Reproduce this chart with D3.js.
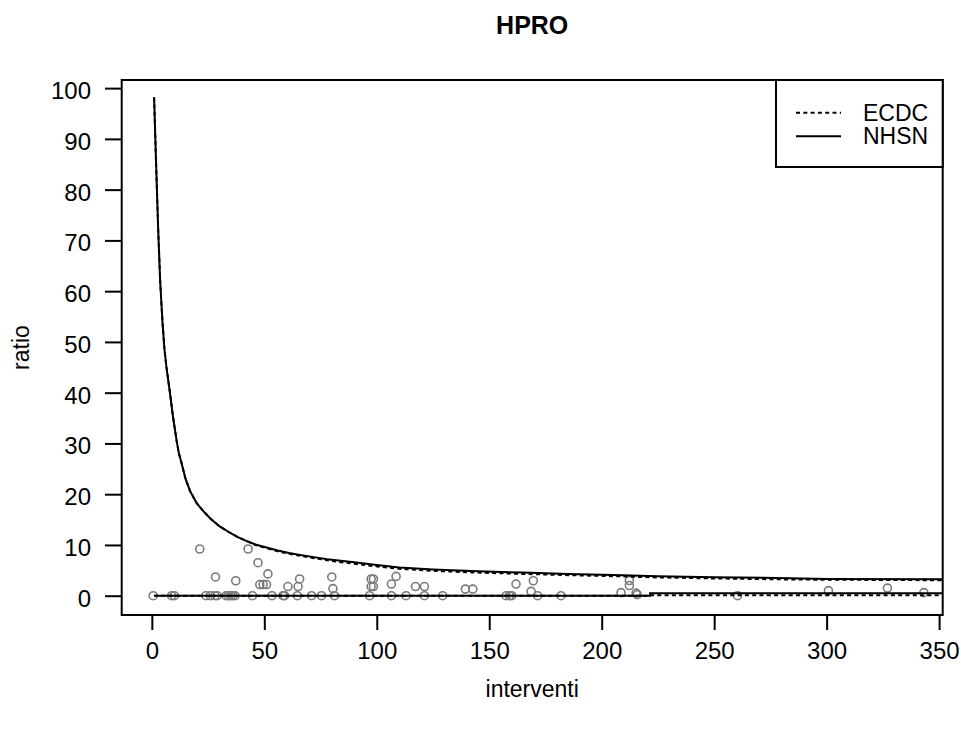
<!DOCTYPE html>
<head>
  <meta charset="utf-8">
  <script src="https://d3js.org/d3.v7.min.js"></script>
  <style>
    body { margin: 0; background: #fff; font-family: "Liberation Sans", Arial, sans-serif; }
    text { fill: #000; }
    .axis path { display: none; }
    .axis line { stroke: #000; stroke-width: 2; }
    .axis text { font-size: 24px; font-family: "Liberation Sans", Arial, sans-serif; }
  </style>
</head>
<body>
  <script>
    // tick labels
    var xTicks = [0, 50, 100, 150, 200, 250, 300, 350];
    var yTicks = [0, 10, 20, 30, 40, 50, 60, 70, 80, 90, 100];

    // observed hospitals: interventi / ratio
    var pointN = [0.6, 8.8, 10, 21.3, 24, 26, 28, 29, 28.3, 33, 34, 35, 36, 37, 37.3, 42.8, 44.7, 47.2,
                  48, 49.5, 51, 51.6, 53.4, 58.3, 59, 60.5, 64.7, 65, 65.7, 71, 75.4, 80, 80.5, 81.2,
                  96.8, 97.5, 98.5, 97.5, 98.5, 106.5, 106.5, 108.6, 113, 117.2, 121.2, 121.2, 129.3,
                  139.4, 142.7, 157.5, 159, 160, 161.9, 168.6, 169.6, 171.5, 181.9, 208.6, 212.3, 212.3,
                  215.3, 215.8, 260.4, 300.8, 327, 343.2];
    var pointRatio = [0, 0, 0, 9.2, 0, 0, 0, 0, 3.7, 0, 0, 0, 0, 0, 2.95, 9.2, 0, 6.5,
                      2.2, 2.2, 2.2, 4.3, 0, 0, 0, 1.8, 0, 1.8, 3.3, 0, 0, 3.7, 1.4, 0,
                      0, 3.3, 3.3, 1.8, 1.8, 2.3, 0, 3.8, 0, 1.8, 1.8, 0, 0,
                      1.3, 1.3, 0, 0, 0, 2.3, 0.85, 2.95, 0, 0, 0.6, 3.0, 2.0,
                      0.5, 0.2, 0, 1.0, 1.5, 0.6];

    // control limits
    var upperN = [1, 1.9, 2.8, 3.7, 4.7, 5.6, 6.5, 7.4, 8.4, 9.3, 10.2, 11.1, 12, 13, 15, 17, 20, 23, 26,
                  30, 34, 38, 42, 46, 51, 56, 61, 66, 72, 78, 84, 90, 99, 110, 125, 145, 165, 185, 205,
                  225, 250, 284, 300, 352];
    var nhsnUpper = [98.2, 85, 72.4, 62, 54.1, 48.6, 45, 42.1, 38.8, 35.6, 32.9, 30.3, 28.1, 26.5, 23, 20.6,
                     18.2, 16.6, 15.2, 13.7, 12.6, 11.6, 10.8, 10.1, 9.5, 8.9, 8.4, 8.0, 7.6, 7.2, 6.9, 6.6,
                     6.1, 5.55, 5.15, 4.8, 4.55, 4.3, 4.1, 3.85, 3.65, 3.45, 3.3, 3.25];
    var ecdcUpper = [98.2, 85, 72.4, 62, 54.1, 48.6, 45, 42.1, 38.8, 35.6, 32.9, 30.3, 28.1, 26.5, 23, 20.6,
                     18.2, 16.6, 15.2, 13.7, 12.6, 11.6, 10.8, 10.0, 9.35, 8.75, 8.25, 7.85, 7.4, 7.0, 6.6, 6.3,
                     5.8, 5.3, 4.9, 4.55, 4.3, 4.05, 3.85, 3.6, 3.4, 3.2, 3.15, 3.05];
    var lowerN = [1, 221.5, 221.5, 352];
    var nhsnLower = [0, 0, 0.5, 0.5];
    var ecdcLower = [0, 0, 0.1, 0.1];

    var legendLabels = ["ECDC", "NHSN"];

    var width = 961, height = 729;
    var box = {left: 121.7, right: 942.7, top: 80, bottom: 615};

    var svg = d3.select("body").append("svg")
        .attr("width", width)
        .attr("height", height);

    var x = d3.scaleLinear().domain([-13.4, 351.6]).range([box.left, box.right]);
    var y = d3.scaleLinear().domain([-3.8, 101.6]).range([box.bottom, box.top]);

    svg.append("clipPath").attr("id", "plotclip")
      .append("rect")
        .attr("x", box.left).attr("y", box.top)
        .attr("width", box.right - box.left).attr("height", box.bottom - box.top);

    // axes
    var xAxis = svg.append("g")
        .attr("class", "axis")
        .attr("transform", "translate(0," + box.bottom + ")")
        .call(d3.axisBottom(x).tickValues(xTicks).tickSize(15).tickPadding(12).tickFormat(d3.format("d")));
    xAxis.selectAll("text").attr("dy", "0.71em");

    var yAxis = svg.append("g")
        .attr("class", "axis")
        .attr("transform", "translate(" + box.left + ",0)")
        .call(d3.axisLeft(y).tickValues(yTicks).tickSize(16.7).tickPadding(14).tickFormat(d3.format("d")));
    yAxis.selectAll("text").attr("dy", "0.44em");

    // points
    var pts = pointN.map(function(n, i) { return {n: n, r: pointRatio[i]}; });
    svg.append("g").selectAll("circle")
        .data(pts)
        .enter().append("circle")
        .attr("cx", function(d) { return x(d.n); })
        .attr("cy", function(d) { return y(d.r); })
        .attr("r", 4)
        .style("fill", "none")
        .style("stroke", "#7a7a7a")
        .style("stroke-width", 1.6);

    // limit lines
    var line = d3.line()
        .x(function(d) { return x(d[0]); })
        .y(function(d) { return y(d[1]); });

    function drawLine(ns, vs, dash) {
      svg.append("path")
        .datum(ns.map(function(n, i) { return [n, vs[i]]; }))
        .attr("clip-path", "url(#plotclip)")
        .attr("d", line)
        .style("fill", "none")
        .style("stroke", "#000")
        .style("stroke-width", 2)
        .style("stroke-dasharray", dash);
    }
    drawLine(upperN, ecdcUpper, "4,3.3");
    drawLine(lowerN, ecdcLower, "4,3.3");
    drawLine(upperN, nhsnUpper, null);
    drawLine(lowerN, nhsnLower, null);

    // plot box
    svg.append("rect")
        .attr("x", box.left).attr("y", box.top)
        .attr("width", box.right - box.left).attr("height", box.bottom - box.top)
        .style("fill", "none").style("stroke", "#000").style("stroke-width", 2);

    // legend
    var lg = svg.append("g");
    lg.append("rect")
        .attr("x", 776).attr("y", box.top)
        .attr("width", box.right - 776).attr("height", 167 - box.top)
        .style("fill", "#fff").style("stroke", "#000").style("stroke-width", 2);
    var legendDash = ["4,3.3", null];
    legendLabels.forEach(function(lab, i) {
      var ly = 112.7 + i * 23.5;
      lg.append("line")
        .attr("x1", 796).attr("x2", 841).attr("y1", ly).attr("y2", ly)
        .style("stroke", "#000").style("stroke-width", 2)
        .style("stroke-dasharray", legendDash[i]);
      lg.append("text")
        .attr("x", 863).attr("y", ly).attr("dy", "0.36em")
        .style("font-size", "23px")
        .text(lab);
    });

    // titles
    svg.append("text")
        .attr("x", (box.left + box.right) / 2).attr("y", 34)
        .attr("text-anchor", "middle")
        .style("font-size", "25px").style("font-weight", "bold")
        .text("HPRO");
    svg.append("text")
        .attr("x", (box.left + box.right) / 2).attr("y", 697)
        .attr("text-anchor", "middle")
        .style("font-size", "23px")
        .text("interventi");
    svg.append("text")
        .attr("transform", "translate(29," + ((box.top + box.bottom) / 2) + ") rotate(-90)")
        .attr("text-anchor", "middle")
        .style("font-size", "23px")
        .text("ratio");
  </script>
</body>
